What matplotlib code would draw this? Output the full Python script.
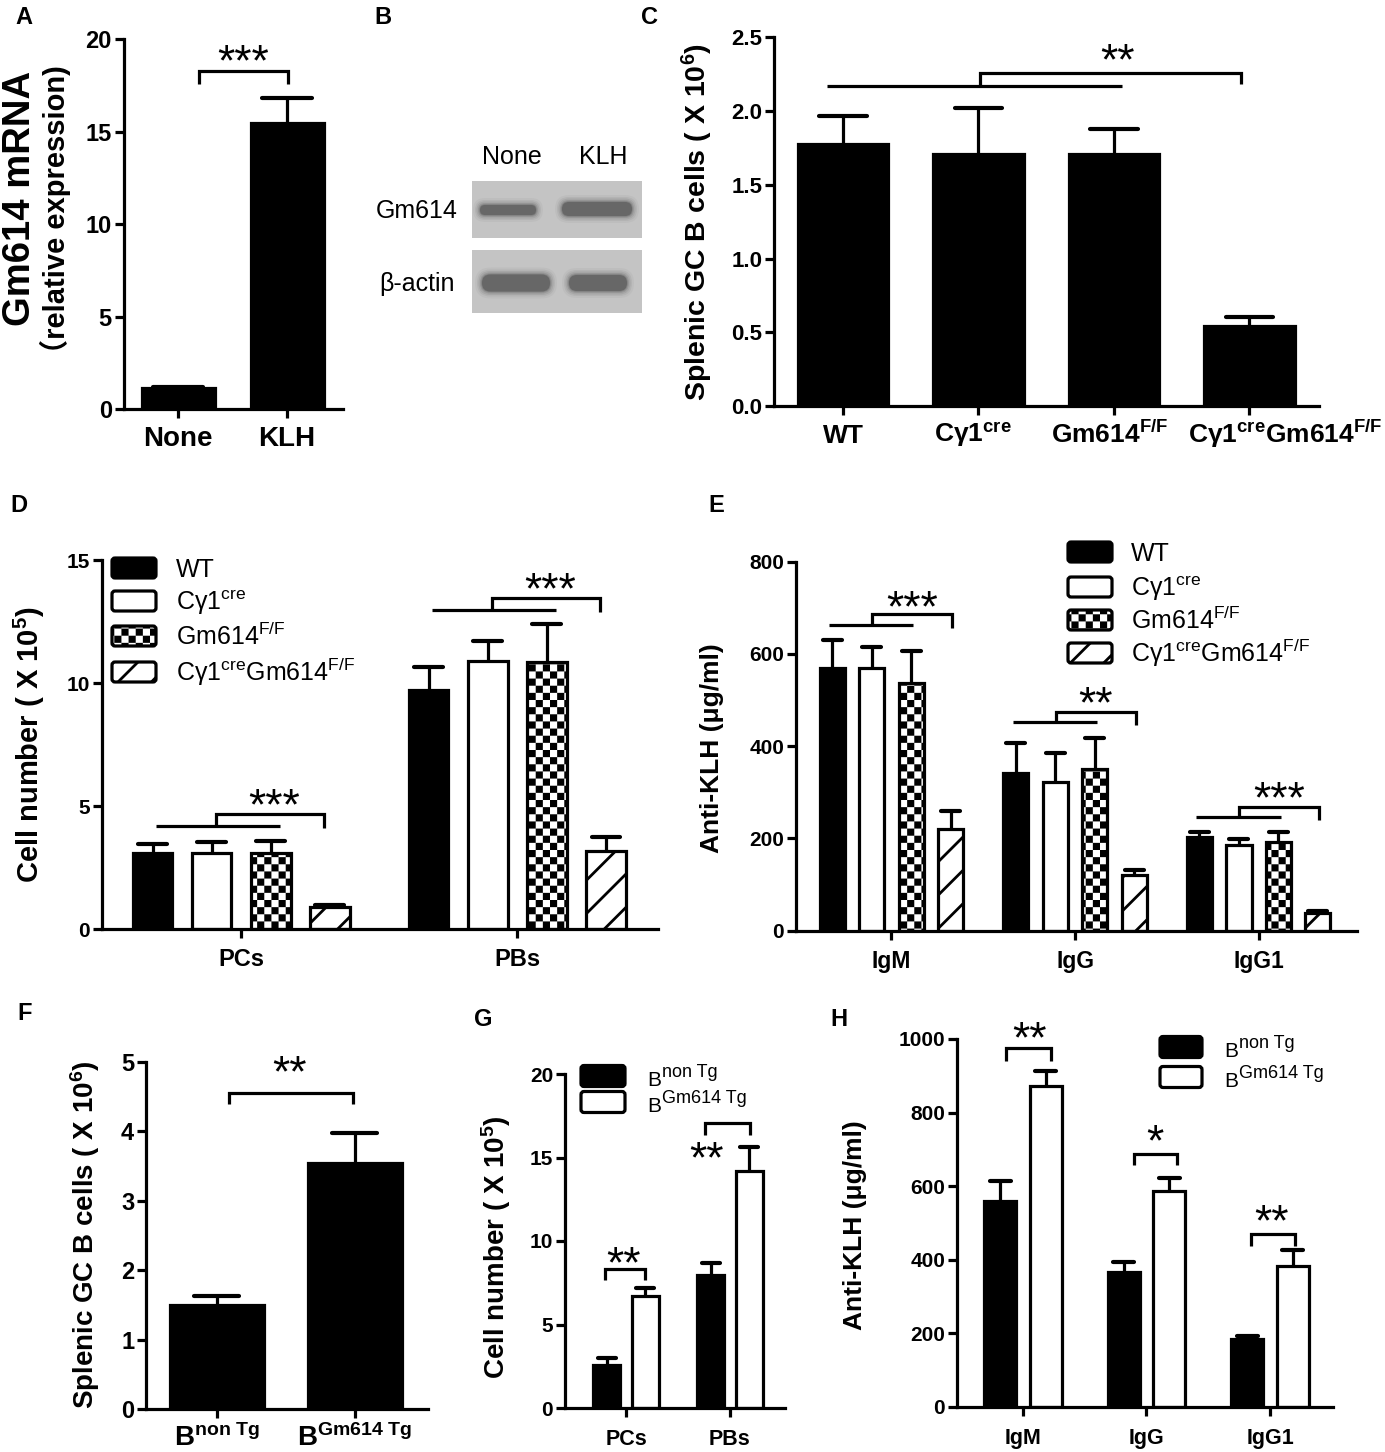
"""Gm614 figure: panels A-H (bar charts + western blot), GraphPad look."""
import matplotlib as mpl
mpl.use("Agg")
import matplotlib.pyplot as plt
import matplotlib.hatch as mhatch
from matplotlib.patches import Rectangle, FancyBboxPatch
from matplotlib.path import Path

mpl.rcParams["font.family"] = ["Liberation Sans", "DejaVu Sans"]
mpl.rcParams["mathtext.fontset"] = "custom"
mpl.rcParams["mathtext.rm"] = "Liberation Sans"
mpl.rcParams["mathtext.bf"] = "Liberation Sans:bold"
mpl.rcParams["mathtext.it"] = "Liberation Sans:italic"
mpl.rcParams["hatch.linewidth"] = 2.0
mpl.rcParams["axes.linewidth"] = 2.3

W, H = 1385, 1452
LW = 2.3

# ---------------- data ----------------
A_groups = ["None", "KLH"]
A_mean = [1.13, 15.46]
A_sem = [0.07, 1.37]

GENOS = ["WT", r"Cγ1$^{\mathrm{cre}}$", r"Gm614$^{\mathrm{F/F}}$",
         r"Cγ1$^{\mathrm{cre}}$Gm614$^{\mathrm{F/F}}$"]
C_labels = ["WT", r"Cγ1$^{\mathbf{cre}}$", r"Gm614$^{\mathbf{F/F}}$",
            r"Cγ1$^{\mathbf{cre}}$Gm614$^{\mathbf{F/F}}$"]
C_mean = [1.776, 1.709, 1.709, 0.542]
C_sem = [0.19, 0.31, 0.17, 0.064]

D_cats = ["PCs", "PBs"]
D_mean = [[3.09, 9.70], [3.09, 10.90], [3.09, 10.85], [0.92, 3.20]]
D_sem = [[0.37, 0.95], [0.44, 0.80], [0.51, 1.55], [0.07, 0.54]]

E_cats = ["IgM", "IgG", "IgG1"]
E_mean = [[570, 342, 204], [570, 322, 185], [538, 350, 193], [220, 121, 38]]
E_sem = [[60, 64, 9], [45, 63, 13], [68, 68, 22], [39, 11, 4]]

F_labels = [r"B$^{\mathbf{non\ Tg}}$", r"B$^{\mathbf{Gm614\ Tg}}$"]
F_mean = [1.50, 3.54]
F_sem = [0.13, 0.44]

TG = [("B", "non Tg"), ("B", "Gm614 Tg")]
G_cats = ["PCs", "PBs"]
G_mean = [[2.55, 7.98], [6.68, 14.20]]
G_sem = [[0.44, 0.69], [0.50, 1.45]]

H_cats = ["IgM", "IgG", "IgG1"]
H_mean = [[560, 366, 185], [871, 588, 382]]
H_sem = [[53, 28, 9], [42, 34, 44]]


# checkerboard fill for the Gm614 F/F bars, hooked onto the '*' hatch
class CheckerHatch(mhatch.HatchPatternBase):
    cells = 14

    def __init__(self, hatch, density):
        self.n = self.cells if "*" in hatch else 0
        self.num_vertices = (self.n * self.n // 2) * 5

    def set_vertices_and_codes(self, vertices, codes):
        n = self.n
        c = 1.0 / n
        ins = mpl.rcParams["hatch.linewidth"] / 72 / 2
        k = 0
        for i in range(n):
            for j in range(n):
                if (i + j) % 2:
                    continue
                x0, y0 = j * c + ins, i * c + ins
                x1, y1 = (j + 1) * c - ins, (i + 1) * c - ins
                vertices[k:k + 5] = [(x0, y0), (x1, y0), (x1, y1), (x0, y1), (x0, y0)]
                codes[k:k + 5] = [Path.MOVETO, Path.LINETO, Path.LINETO,
                                  Path.LINETO, Path.CLOSEPOLY]
                k += 5


mhatch._hatch_types = [t for t in mhatch._hatch_types if t is not mhatch.Stars]
mhatch._hatch_types.append(CheckerHatch)

STYLE = [dict(fc="black", hatch=None), dict(fc="white", hatch=None),
         dict(fc="white", hatch="*"), dict(fc="white", hatch="/")]

fig = plt.figure(figsize=(W / 100, H / 100), dpi=100)
fig.patch.set_facecolor("white")


def panel(x0, x1, ytop, ybot, xlim, ylim, yticks, ysize, fmt=None):
    ax = fig.add_axes([x0 / W, 1 - ybot / H, (x1 - x0) / W, (ybot - ytop) / H])
    ax.set_xlim(*xlim)
    ax.set_ylim(*ylim)
    for s in ("top", "right"):
        ax.spines[s].set_visible(False)
    ax.set_yticks(yticks)
    if fmt:
        ax.set_yticklabels([fmt % v for v in yticks])
    ax.tick_params(axis="y", width=LW, length=6.5, pad=2, labelsize=ysize)
    ax.tick_params(axis="x", width=LW, length=6.5, labelbottom=False)
    for t in ax.get_yticklabels():
        t.set_fontweight("bold")
    return ax


def xlabels(ax, xs, labels, fs, shifts=None):
    ax.set_xticks(xs)
    shifts = shifts or [0] * len(xs)
    for x, lab, dx in zip(xs, labels, shifts):
        ax.annotate(lab, (x, 0), xycoords=("data", "axes fraction"),
                    xytext=(dx, -26.5), textcoords="offset points",
                    ha="center", va="baseline", fontsize=fs, fontweight="bold",
                    annotation_clip=False)


def bars(ax, xs, m, e, w, style, half=0.33, lwcap=3.0):
    ax.bar(xs, m, w, color=style["fc"], edgecolor="black", lw=LW,
           hatch=style["hatch"], zorder=2)
    for x, v, s in zip(xs, m, e):
        ax.vlines(x, v, v + s, color="black", lw=LW, zorder=3)
        ax.hlines(v + s, x - half * w, x + half * w, color="black", lw=lwcap,
                  zorder=3, capstyle="round")


def bracket(ax, xa, xb, ytop, ya, yb):
    ax.plot([xa, xa, xb, xb], [ya, ytop, ytop, yb], color="black", lw=LW,
            clip_on=False, solid_joinstyle="miter", solid_capstyle="butt")


def line(ax, xa, xb, y):
    ax.plot([xa, xb], [y, y], color="black", lw=LW, clip_on=False,
            solid_capstyle="butt")


def stars(ax, x, y, s, fs=32):
    ax.annotate(s, (x, y), xytext=(0, -0.47 * fs), textcoords="offset points",
                ha="center", va="baseline", fontsize=fs, annotation_clip=False)


# overlay in pixel coordinates (y down) for letters, labels, blot, legends
ov = fig.add_axes([0, 0, 1, 1])
ov.set_xlim(0, W)
ov.set_ylim(H, 0)
ov.axis("off")
ov.set_zorder(10)


def ylab(x, y, s, fs):
    ov.text(x, y, s, rotation=90, ha="center", va="center", fontsize=fs,
            fontweight="bold", family=["Liberation Sans", "Noto Sans CJK SC"])


def key(x0, y, w, h, st):
    ov.add_patch(FancyBboxPatch((x0, y - h / 2), w, h,
                                boxstyle="round,pad=0,rounding_size=3",
                                fc=st["fc"], ec="black", lw=LW, hatch=st["hatch"]))


def legend(x0, rows, w, h, tx, fs, styles):
    for (y, lab), st in zip(rows, styles):
        key(x0, y, w, h, st)
        ov.text(tx, y + 0.36 * fs * 100 / 72, lab, ha="left", va="baseline",
                fontsize=fs)


def legend_tg(x0, rows, w, h, tx, styles):
    # "B" with a large raised label, as GraphPad draws it
    for (y, (main, sup)), st in zip(rows, styles):
        key(x0, y, w, h, st)
        base = y + 10
        t = ov.text(tx, base, main, ha="left", va="baseline", fontsize=15)
        ov.annotate(sup, (tx, base), xytext=(11, 6.5), textcoords="offset points",
                    ha="left", va="baseline", fontsize=13)


for lt, (x, y) in zip("ABCDEFGH", [(24, 17), (383, 17), (650, 17), (19, 505),
                                   (716, 505), (25, 1013), (483, 1020), (839, 1020)]):
    ov.text(x, y, lt, ha="center", va="center", fontsize=17, fontweight="bold")

# ---------------- A ----------------
axA = panel(123.6, 342.6, 39.3, 409.3, (-0.5, 1.51), (0, 20), [0, 5, 10, 15, 20], 17)
bars(axA, [0, 1], A_mean, A_sem, 0.67, STYLE[0], half=0.34)
xlabels(axA, [0, 1], A_groups, 20)
bracket(axA, 0.19, 1.01, 18.27, 17.6, 17.6)
stars(axA, 0.595, 19.2, "***")
ov.text(20, 198, "Gm614 mRNA", rotation=90, ha="center", va="center",
        fontsize=27.5, fontweight="bold")
ylab(55, 217, "（relative expression)", 21)

# ---------------- B (blot) ----------------
for top, bot in [(181, 238), (250, 313)]:
    ov.add_patch(Rectangle((472, top), 170, bot - top, fc="#c4c4c4", ec="none"))


def band(cx, cy, w, h, color="#5c5c5c"):
    for g, a in [(7, 0.06), (5, 0.10), (3.5, 0.15), (2, 0.22), (0.8, 0.35), (0, 0.7)]:
        ov.add_patch(FancyBboxPatch((cx - w / 2 - g, cy - h / 2 - g), w + 2 * g,
                                    h + 2 * g, boxstyle=f"round,pad=0,rounding_size={h / 2 + g}",
                                    fc=color, ec="none", alpha=a))


band(508, 210, 56, 10)
band(597, 209, 70, 14)
band(516, 283, 68, 17)
band(598, 283, 58, 16)
ov.text(512, 157, "None", ha="center", va="center", fontsize=18)
ov.text(603, 157, "KLH", ha="center", va="center", fontsize=18)
ov.text(458, 211, "Gm614", ha="right", va="center", fontsize=18)
ov.text(455, 284, "β-actin", ha="right", va="center", fontsize=18)

# ---------------- C ----------------
axC = panel(774.4, 1318.5, 37.3, 406, (-0.506, 3.51), (0, 2.5),
            [0, 0.5, 1.0, 1.5, 2.0, 2.5], 16, fmt="%.1f")
bars(axC, range(4), C_mean, C_sem, 0.67, STYLE[0], half=0.26)
xlabels(axC, range(4), C_labels, 19, shifts=[0, -4, -3, 26])
line(axC, -0.12, 2.06, 2.17)
bracket(axC, 1.01, 2.94, 2.256, 2.17, 2.18)
stars(axC, 2.03, 2.39, "**")
ylab(697, 222, r"Splenic GC B cells ( X 10$^{\mathbf{6}}$)", 20.5)

# ---------------- D ----------------
axD = panel(102, 658, 560, 929.3, (-0.504, 1.51), (0, 15), [0, 5, 10, 15], 15)
for i in range(4):
    xs = [c + (i - 1.5) * 0.214 for c in range(2)]
    bars(axD, xs, D_mean[i], D_sem[i], 0.144, STYLE[i], half=0.36)
xlabels(axD, [0, 1], D_cats, 17)
for c, (yl, yt, yg, sy) in enumerate([(4.2, 4.67, 4.1, 5.33), (12.97, 13.45, 12.9, 14.1)]):
    line(axD, c - 0.31, c + 0.14, yl)
    bracket(axD, c - 0.09, c + 0.30, yt, yl, yg)
    stars(axD, c + 0.12, sy, "***")
ylab(29, 745, r"Cell number ( X 10$^{\mathbf{5}}$)", 21)
legend(112, list(zip([568, 601, 636, 672], GENOS)), 44, 20, 176, 18, STYLE)

# ---------------- E ----------------
axE = panel(796, 1357, 561.7, 930.7, (-0.52, 2.536), (0, 800),
            [0, 200, 400, 600, 800], 15)
for i in range(4):
    xs = [c + (i - 1.5) * 0.215 for c in range(3)]
    bars(axE, xs, E_mean[i], E_sem[i], 0.138, STYLE[i], half=0.38)
xlabels(axE, range(3), E_cats, 16.5)
for c, (yl, yt, yg, sy, s) in enumerate([(663, 686, 657, 717, "***"),
                                         (453, 475, 446, 507, "**"),
                                         (247, 269, 240, 301, "***")]):
    line(axE, c - 0.34, c + 0.12, yl)
    bracket(axE, c - 0.105, c + 0.33, yt, yl, yg)
    stars(axE, c + 0.11, sy, s)
ylab(712, 748, "Anti-KLH (μg/ml)", 19)
legend(1068, list(zip([552, 587, 620, 653], GENOS)), 44, 20, 1131, 18, STYLE)

# ---------------- F ----------------
axF = panel(146, 428, 1062, 1409, (-0.51, 1.53), (0, 5), [0, 1, 2, 3, 4, 5], 17)
bars(axF, [0, 1], F_mean, F_sem, 0.68, STYLE[0], half=0.24)
xlabels(axF, [0, 1], F_labels, 20)
bracket(axF, 0.09, 0.99, 4.55, 4.39, 4.39)
stars(axF, 0.53, 4.95, "**")
ylab(85, 1235, r"Splenic GC B cells ( X 10$^{\mathbf{6}}$)", 20)

# ---------------- G ----------------
axG = panel(565, 785, 1074, 1408, (-0.587, 1.53), (0, 20), [0, 5, 10, 15, 20], 15)
for i in range(2):
    xs = [c + (i - 0.5) * 0.37 for c in range(2)]
    bars(axG, xs, G_mean[i], G_sem[i], 0.26, STYLE[i], half=0.33)
xlabels(axG, [0, 1], G_cats, 15.5)
bracket(axG, -0.198, 0.18, 8.31, 7.68, 7.68)
stars(axG, -0.02, 9.07, "**")
bracket(axG, 0.757, 1.198, 17.05, 16.35, 16.35)
stars(axG, 0.774, 15.35, "**")
ylab(496, 1247, r"Cell number ( X 10$^{\mathbf{5}}$)", 20)
legend_tg(581, list(zip([1076, 1102], TG)), 44, 21, 647, STYLE[:2])

# ---------------- H ----------------
axH = panel(957, 1333, 1039, 1407, (-0.534, 2.51), (0, 1000),
            [0, 200, 400, 600, 800, 1000], 15)
for i in range(2):
    xs = [c + (i - 0.5) * 0.37 for c in range(3)]
    bars(axH, xs, H_mean[i], H_sem[i], 0.26, STYLE[i], half=0.33)
xlabels(axH, range(3), H_cats, 15.5)
for c, (xa, xb, yt, yg, sx, sy, s) in enumerate([(-0.14, 0.23, 976, 941, 0.05, 1021, "**"),
                                                 (-0.10, 0.25, 688, 658, 0.07, 740, "*"),
                                                 (-0.15, 0.20, 469, 438, 0.01, 522, "**")]):
    bracket(axH, c + xa, c + xb, yt, yg, yg)
    stars(axH, c + sx, sy, s)
ylab(855, 1225, "Anti-KLH (μg/ml)", 19)
legend_tg(1160, list(zip([1047, 1077], TG)), 42, 21, 1224, STYLE[:2])

fig.savefig("out.png", dpi=100, facecolor="white")
